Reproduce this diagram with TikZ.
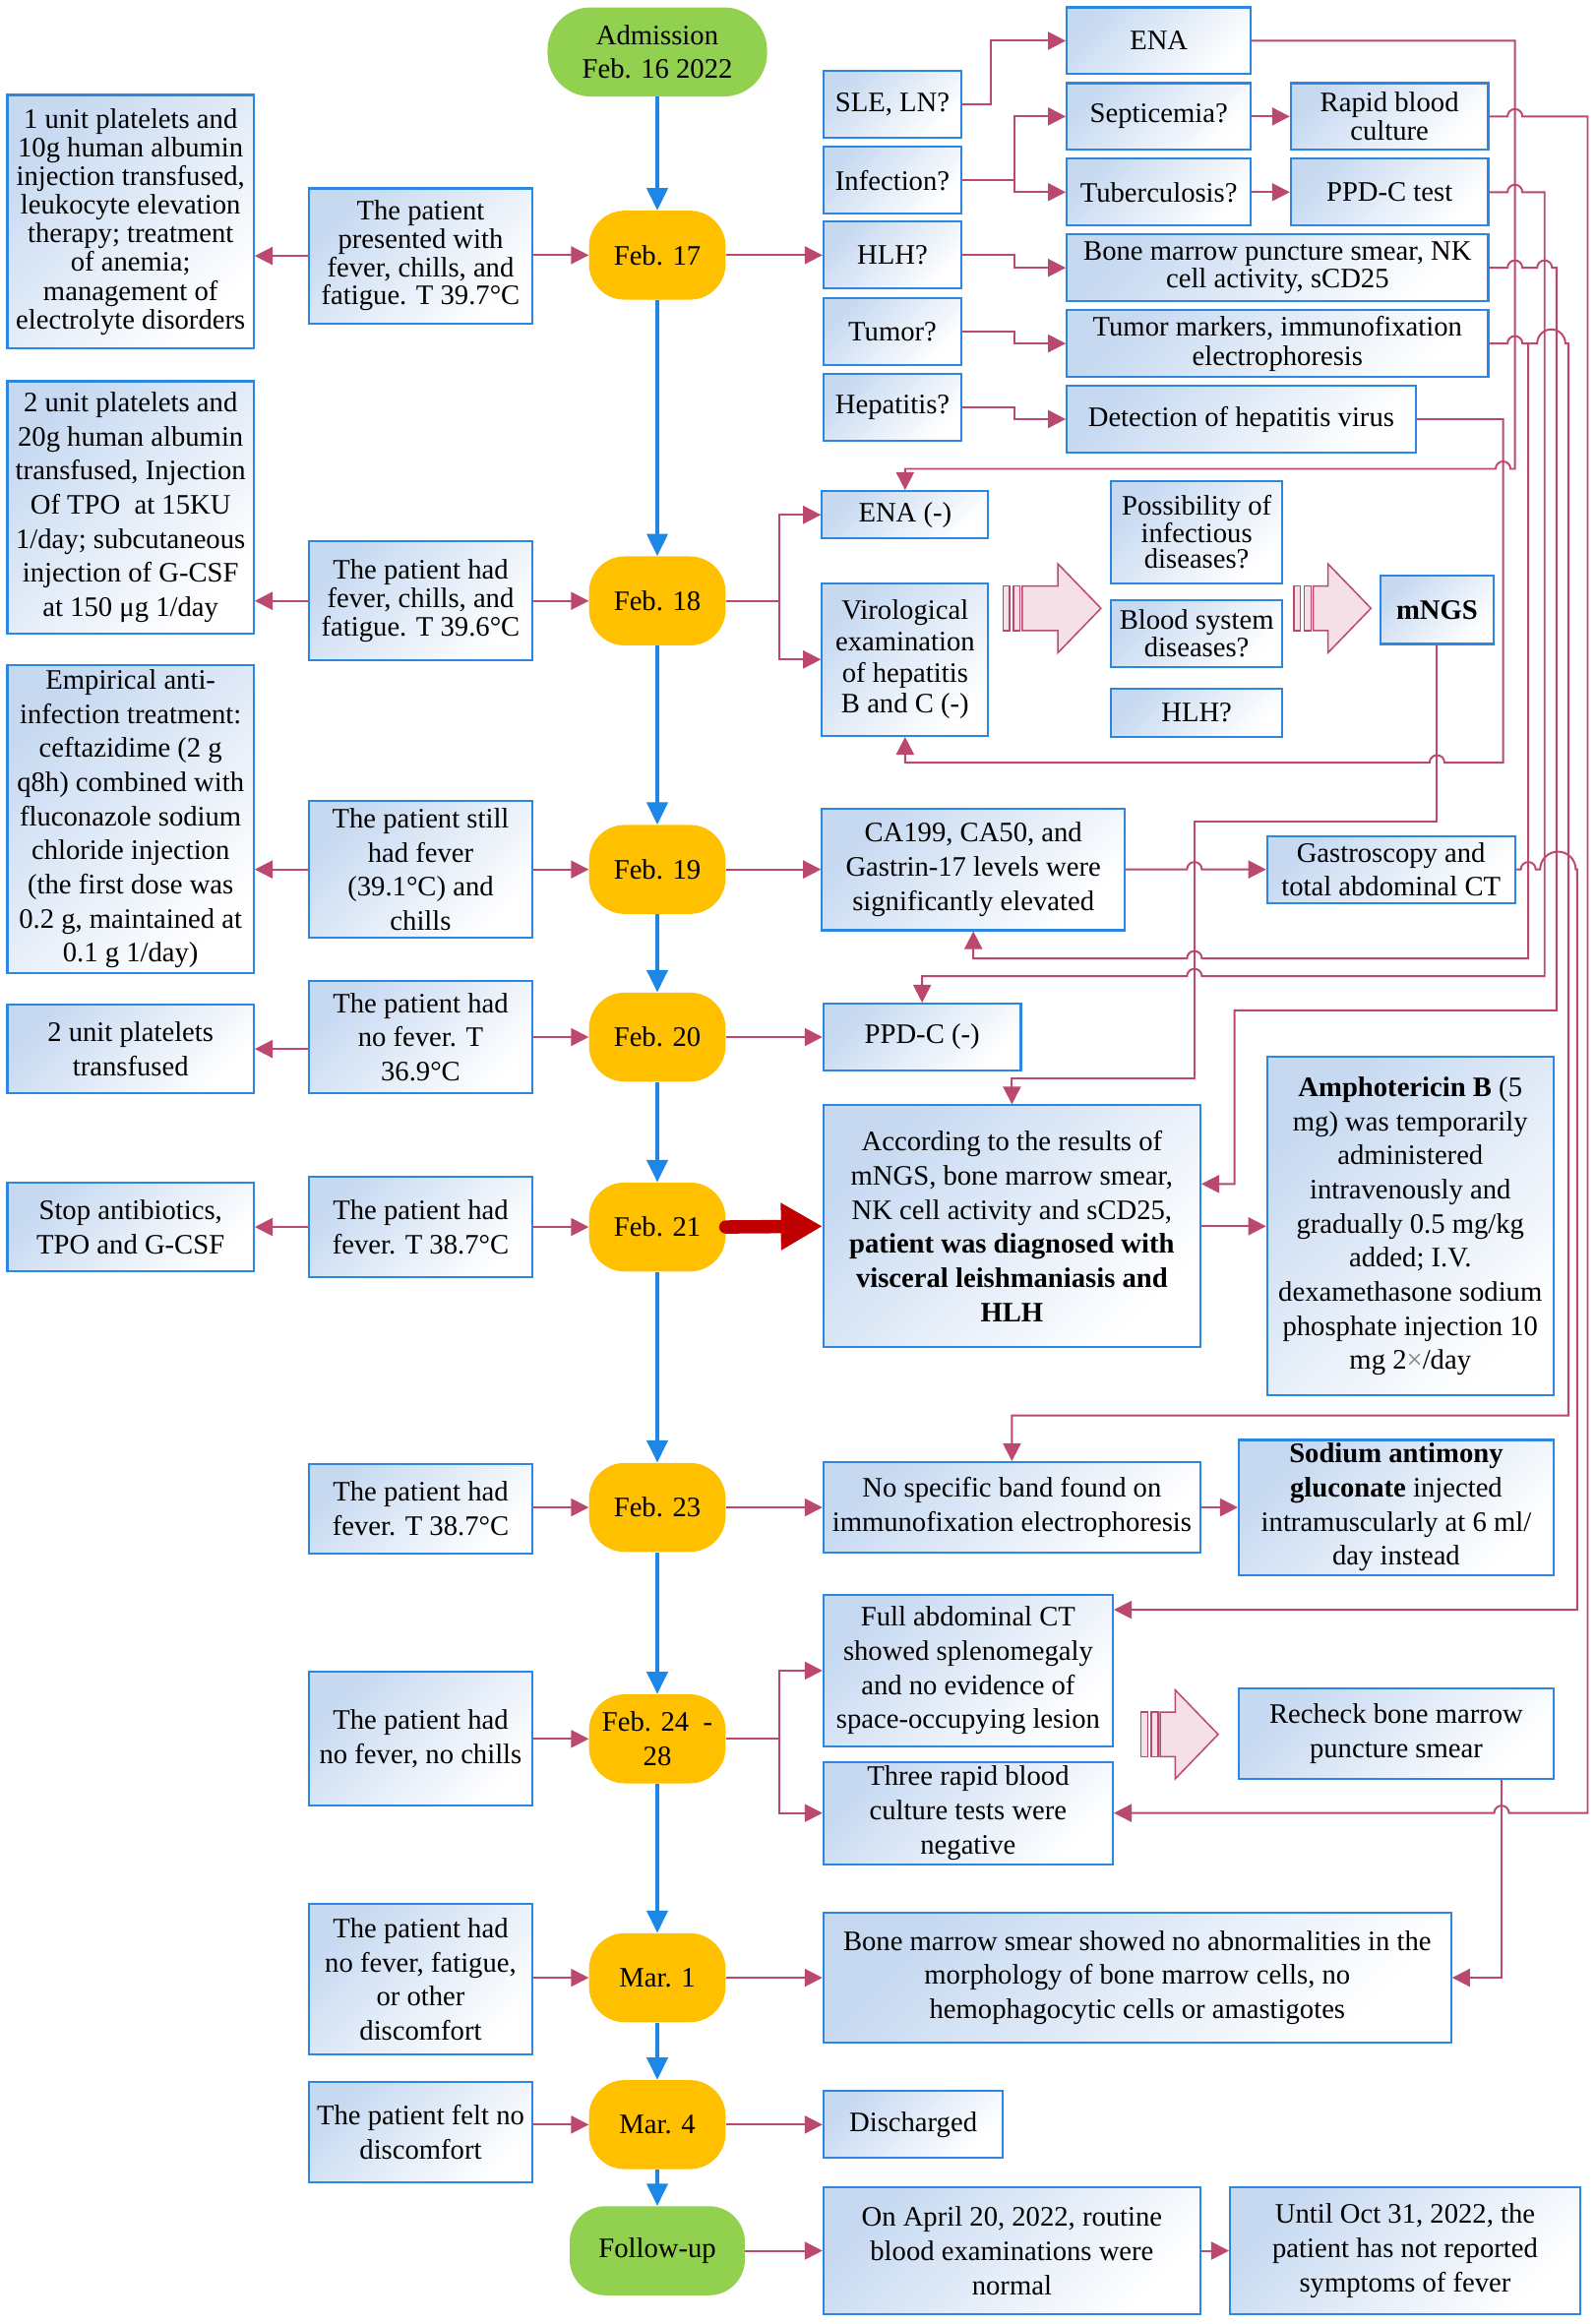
\documentclass[tikz,border=0pt]{standalone}
\usepackage{fontspec}
\setmainfont{Liberation Serif}
\usetikzlibrary{arrows.meta,positioning,shapes.misc}

\definecolor{boxfill}{RGB}{198,217,241}
\definecolor{boxline}{RGB}{45,135,225}
\definecolor{dayorange}{RGB}{255,192,0}
\definecolor{daygreen}{RGB}{146,208,80}
\definecolor{tlblue}{RGB}{28,135,230}
\definecolor{pkline}{RGB}{187,72,110}
\definecolor{pkfill}{RGB}{245,224,231}
\definecolor{darkred}{RGB}{192,0,0}

% striped block arrow: x, y (centre line), body length
\newcommand{\hollowarrow}[3]{%
  \draw[hollow] (#1,#2-15) rectangle ++(4.5,30);
  \draw[hollow] (#1+7,#2-15) rectangle ++(4.5,30);
  \draw[hollow] (#1+13,#2-15) -- ++(#3,0) -- ++(0,-15) -- ++(29,30) -- ++(-29,30) -- ++(0,-15) -- ++(-#3,0) -- cycle;
}

\begin{document}
\begin{tikzpicture}[x=1pt, y=-1pt, font=\fontsize{19}{23}\selectfont]
\tikzstyle{box}=[rectangle, draw=boxline, line width=1.4pt, top color=boxfill, bottom color=white, shading angle=45, align=center, inner sep=2pt]
\tikzstyle{lead}=[font=\fontsize{19}{#1}\selectfont]
\tikzstyle{day}=[rectangle, rounded corners=24pt, fill=dayorange, minimum width=92, minimum height=60, align=center, inner sep=1pt]
\tikzstyle{tl}=[draw=tlblue, line width=2.4pt, -{Triangle[length=15pt,width=14pt]}]
\tikzstyle{pk}=[draw=pkline, line width=1.3pt, -{Triangle[length=12pt,width=12pt]}]
\tikzstyle{bigred}=[draw=darkred, line width=9pt, line cap=round, -{Triangle[length=28pt,width=30pt]}]
\tikzstyle{hollow}=[draw=pkline, line width=1pt, fill=pkfill]
\useasboundingbox (0,0) rectangle (1075,1566.4);

% time line
\node[day, fill=daygreen, minimum width=148, rounded corners=29pt] (adm) at (443,35) {Admission\\Feb. 16 2022};
\node[day] (d17) at (443,172) {Feb. 17};
\node[day] (d18) at (443,405) {Feb. 18};
\node[day] (d19) at (443,586) {Feb. 19};
\node[day] (d20) at (443,699) {Feb. 20};
\node[day] (d21) at (443,827) {Feb. 21};
\node[day] (d23) at (443,1016) {Feb. 23};
\node[day] (d24) at (443,1172) {Feb. 24\ \ -\\28};
\node[day] (m1) at (443,1333) {Mar. 1};
\node[day] (m4) at (443,1432) {Mar. 4};
\node[day, fill=daygreen, minimum width=118] (fu) at (443,1517) {Follow-up};

% patient state
\node[box, lead=19, minimum width=151, minimum height=91] (st17) at (283.5,172.5) {The patient\\presented with\\fever, chills, and\\fatigue. T 39.7°C};
\node[box, lead=19.5, minimum width=151, minimum height=80] (st18) at (283.5,405) {The patient had\\fever, chills, and\\fatigue. T 39.6°C};
\node[box, minimum width=151, minimum height=92] (st19) at (283.5,586) {The patient still\\had fever\\(39.1°C) and\\chills};
\node[box, minimum width=151, minimum height=76] (st20) at (283.5,699) {The patient had\\no fever. T\\36.9°C};
\node[box, minimum width=151, minimum height=68] (st21) at (283.5,827) {The patient had\\fever. T 38.7°C};
\node[box, minimum width=151, minimum height=60] (st23) at (283.5,1017) {The patient had\\fever. T 38.7°C};
\node[box, minimum width=151, minimum height=90] (st24) at (283.5,1172) {The patient had\\no fever, no chills};
\node[box, minimum width=151, minimum height=101] (stm1) at (283.5,1334) {The patient had\\no fever, fatigue,\\or other\\discomfort};
\node[box, minimum width=151, minimum height=68] (stm4) at (283.5,1437) {The patient felt no\\discomfort};

% treatment
\node[box, lead=19.3, minimum width=166, minimum height=171] (t17) at (88,149.5) {1 unit platelets and\\10g human albumin\\injection transfused,\\leukocyte elevation\\therapy; treatment\\of anemia;\\management of\\electrolyte disorders};
\node[box, minimum width=166, minimum height=170] (t18) at (88,342) {2 unit platelets and\\20g human albumin\\transfused, Injection\\Of TPO\ \ at 15KU\\1/day; subcutaneous\\injection of G-CSF\\at 150 μg 1/day};
\node[box, minimum width=166, minimum height=208] (t19) at (88,552) {Empirical anti-\\infection treatment:\\ceftazidime (2 g\\q8h) combined with\\fluconazole sodium\\chloride injection\\(the first dose was\\0.2 g, maintained at\\0.1 g 1/day)};
\node[box, minimum width=166, minimum height=60] (t20) at (88,707) {2 unit platelets\\transfused};
\node[box, minimum width=166, minimum height=60] (t21) at (88,827) {Stop antibiotics,\\TPO and G-CSF};

% suspected causes and tests
\node[box, minimum width=93, minimum height=45] (sle) at (601.5,70.5) {SLE, LN?};
\node[box, minimum width=93, minimum height=45] (inf) at (601.5,121.5) {Infection?};
\node[box, minimum width=93, minimum height=45] (hlh) at (601.5,172) {HLH?};
\node[box, minimum width=93, minimum height=45] (tum) at (601.5,223.5) {Tumor?};
\node[box, minimum width=93, minimum height=45] (hep) at (601.5,274.5) {Hepatitis?};
\node[box, minimum width=124, minimum height=45] (ena) at (781,27.5) {ENA};
\node[box, minimum width=124, minimum height=45] (sep) at (781,78.5) {Septicemia?};
\node[box, minimum width=124, minimum height=45] (tb) at (781,129.5) {Tuberculosis?};
\node[box, lead=19, minimum width=133, minimum height=45] (rbc) at (936.5,78.5) {Rapid blood\\culture};
\node[box, minimum width=133, minimum height=45] (ppdt) at (936.5,129.5) {PPD-C test};
\node[box, lead=19, minimum width=284, minimum height=45] (bm) at (861,180.5) {Bone marrow puncture smear, NK\\cell activity, sCD25};
\node[box, lead=20, minimum width=284, minimum height=45] (tm) at (861,231.5) {Tumor markers, immunofixation\\electrophoresis};
\node[box, minimum width=235, minimum height=45] (det) at (836.5,282.5) {Detection of hepatitis virus};

% results
\node[box, minimum width=112, minimum height=32] (enan) at (610,347) {ENA (-)};
\node[box, lead=21, minimum width=112, minimum height=103] (vir) at (610,444.5) {Virological\\examination\\of hepatitis\\B and C (-)};
\node[box, lead=17, minimum width=115, minimum height=69] (poss) at (806.5,358.5) {Possibility of\\infectious\\diseases?};
\node[box, lead=17, minimum width=115, minimum height=45] (bsd) at (806.5,427) {Blood system\\diseases?};
\node[box, minimum width=115, minimum height=32] (hlhb) at (806.5,480.5) {HLH?};
\node[box, minimum width=76, minimum height=46] (mngs) at (968.5,411) {\textbf{mNGS}};
\node[box, lead=23.5, minimum width=204, minimum height=82] (ca) at (656,586) {CA199, CA50, and\\Gastrin-17 levels were\\significantly elevated};
\node[box, lead=22, minimum width=167, minimum height=45] (gas) at (937.5,586) {Gastroscopy and\\total abdominal CT};
\node[box, minimum width=133, minimum height=45] (ppdn) at (621.5,699) {PPD-C (-)};
\node[box, minimum width=254, minimum height=163] (acc) at (682,826.5) {According to the results of\\mNGS, bone marrow smear,\\NK cell activity and sCD25,\\\textbf{patient was diagnosed with}\\\textbf{visceral leishmaniasis and}\\\textbf{HLH}};
\node[box, minimum width=193, minimum height=228] (amph) at (950.5,826.5) {\textbf{Amphotericin B} (5\\mg) was temporarily\\administered\\intravenously and\\gradually 0.5 mg/kg\\added; I.V.\\dexamethasone sodium\\phosphate injection 10\\mg 2\textcolor{gray}{×}/day};
\node[box, minimum width=254, minimum height=61] (nsb) at (682,1016) {No specific band found on\\immunofixation electrophoresis};
\node[box, minimum width=212, minimum height=91] (sod) at (941,1016) {\textbf{Sodium antimony}\\\textbf{gluconate} injected\\intramuscularly at 6 ml/\\day instead};
\node[box, minimum width=195, minimum height=102] (fab) at (652.5,1126) {Full abdominal CT\\showed splenomegaly\\and no evidence of\\space-occupying lesion};
\node[box, minimum width=195, minimum height=69] (three) at (652.5,1222) {Three rapid blood\\culture tests were\\negative};
\node[box, minimum width=212, minimum height=61] (rec) at (941,1168.5) {Recheck bone marrow\\puncture smear};
\node[box, minimum width=423, minimum height=88] (smear) at (766.5,1333) {Bone marrow smear showed no abnormalities in the\\morphology of bone marrow cells, no\\hemophagocytic cells or amastigotes};
\node[box, minimum width=121, minimum height=45] (dis) at (615.5,1432) {Discharged};
\node[box, minimum width=254, minimum height=86] (apr) at (682,1517) {On April 20, 2022, routine\\blood examinations were\\normal};
\node[box, minimum width=236, minimum height=86] (until) at (947,1517) {Until Oct 31, 2022, the\\patient has not reported\\symptoms of fever};

\hollowarrow{676}{410}{24}
\hollowarrow{872}{410}{10}
\hollowarrow{769}{1169}{10}

% time line arrows
\foreach \a/\b in {adm/d17, d17/d18, d18/d19, d19/d20, d20/d21, d21/d23, d23/d24, d24/m1, m1/m4, m4/fu}
  \draw[tl] (\a) -- (\b);

% left side
\foreach \s/\d in {st17/d17, st18/d18, st19/d19, st20/d20, st21/d21, st23/d23, st24/d24, stm1/m1, stm4/m4}
  \draw[pk] (\d.west -| \s.east) -- (\d.west);
\foreach \s/\t in {st17/t17, st18/t18, st19/t19, st21/t21}
  \draw[pk] (\s.west) -- (\s.west -| \t.east);
\draw[pk] (t20.east -| st20.west) -- (t20.east);

% Feb. 17 work-up
\draw[pk] (d17.east) -- (hlh.west);
\draw[pk] (sle.east) -- (668,70.5) |- (ena.west);
\draw[pk] (inf.east) -- (684,121.5) |- (sep.west);
\draw[pk] (684,121.5) |- (tb.west);
\draw[pk] (sep.east) -- (rbc.west);
\draw[pk] (tb.east) -- (ppdt.west);
\draw[pk] (hlh.east) -- (684,172) |- (bm.west);
\draw[pk] (tum.east) -- (684,223.5) |- (tm.west);
\draw[pk] (hep.east) -- (684,274.5) |- (det.west);

% results fed back
\draw[pk] (ena.east) -- (1021,27.5) -- (1021,316) -- (1018,316) arc[start angle=0, end angle=-180, radius=5] -| (enan.north);
\draw[pk] (det.east) -| (1013,514) -- (973.5,514) arc[start angle=0, end angle=-180, radius=5] -| (vir.south);
\draw[pk] (mngs.south) |- (805,554) -- (805,727) -| (acc.north);
\draw[pk] (rbc.east) -- (1016,78.5) arc[start angle=180, end angle=360, radius=5] -- (1070,78.5) -- (1070,1222) -- (1017,1222) arc[start angle=0, end angle=-180, radius=5] -- (three.east);
\draw[pk] (ppdt.east) -- (1016,129.5) arc[start angle=180, end angle=360, radius=5] -- (1041,129.5) -- (1041,658) -- (810,658) arc[start angle=0, end angle=-180, radius=5] -| (ppdn.north);
\draw[pk] (bm.east) -- (1016,180.5) arc[start angle=180, end angle=360, radius=5] -- (1036,180.5) arc[start angle=180, end angle=360, radius=5] -- (1049,180.5) -- (1049,681) -| (832,798) -- (acc.east |- 0,798);
\draw[pk] (tm.east) -- (1016,231.5) arc[start angle=180, end angle=360, radius=5] -- (1030,231.5) -- (1030,646) -- (810,646) arc[start angle=0, end angle=-180, radius=5] -| (ca.south);
\draw[pk] (1030,231.5) -- (1036,231.5) arc[start angle=180, end angle=360, radius=9.5] -- (1057,231.5) -- (1057,954) -| (nsb.north);
\draw[pk] (ca.east) -- (800,586) arc[start angle=180, end angle=360, radius=5] -- (gas.west);
\draw[pk] (gas.east) -- (1025,586) arc[start angle=180, end angle=360, radius=5] -- (1038,586) arc[start angle=180, end angle=360, radius=12] -- (1063,586) -- (1063,1085) -- (fab.east |- 0,1085);
\draw[pk] (rec.south -| 1012,0) |- (smear.east);

% day to findings
\draw[pk] (d18.east) -- (525,405) |- (enan.west);
\draw[pk] (525,405) |- (vir.west);
\draw[pk] (d19.east) -- (ca.west);
\draw[pk] (d20.east) -- (ppdn.west);
\draw[bigred] (d21.east) -- (acc.west);
\draw[pk] (acc.east) -- (amph.west);
\draw[pk] (d23.east) -- (nsb.west);
\draw[pk] (nsb.east) -- (sod.west);
\draw[pk] (d24.east) -- (525,1172) |- (fab.west);
\draw[pk] (525,1172) |- (three.west);
\draw[pk] (m1.east) -- (smear.west);
\draw[pk] (m4.east) -- (dis.west);
\draw[pk] (fu.east) -- (apr.west);
\draw[pk] (apr.east) -- (until.west);
\end{tikzpicture}
\end{document}
